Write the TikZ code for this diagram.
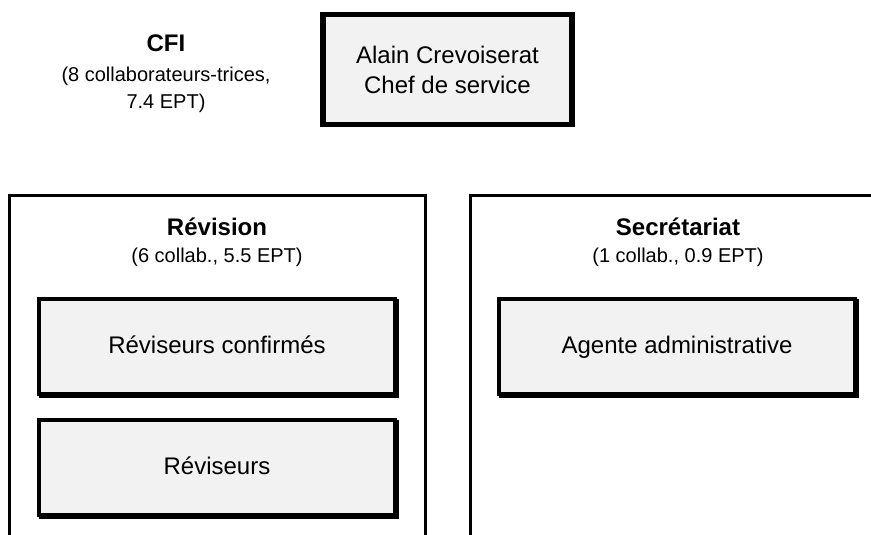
\documentclass[tikz,border=0pt]{standalone}
\usepackage{fontspec}
\setmainfont{Liberation Sans}
\definecolor{boxfill}{HTML}{F2F2F2}
\begin{document}
\begin{tikzpicture}[x=1pt,y=-1pt,
  smalltext/.style={font=\fontsize{20}{26.5}\selectfont},
  titletext/.style={font=\fontsize{24}{28}\selectfont\bfseries},
  rolebox/.style={draw=black, line width=4.5pt, fill=boxfill, inner sep=0pt,
    minimum width=356pt, minimum height=95pt, text height=17.7pt, text depth=4.5pt,
    font=\fontsize{24}{28}\selectfont},
  shadowbox/.style={fill=black, draw=black, line width=4.5pt, inner sep=0pt,
    minimum width=356pt, minimum height=95pt},
  unitframe/.style={draw=black, line width=3pt}
]
\useasboundingbox (0,0) rectangle (871,535);
\fill[white] (0,0) rectangle (871,535);

% unit frames (open at the bottom)
\coordinate (revBL) at (9.5,540);
\coordinate (revTL) at (9.5,195);
\coordinate (revTR) at (425,195);
\coordinate (revBR) at (425,540);
\draw[unitframe] (revBL) -- (revTL) -- (revTR) -- (revBR);
\coordinate (secBL) at (470,540);
\coordinate (secTL) at (470,195);
\coordinate (secTR) at (880,195);
\draw[unitframe] (secBL) -- (secTL) -- (secTR);

% CFI heading
\node[titletext, anchor=base, inner sep=0pt] (cfi) at (166,52) {CFI};
\node[smalltext, anchor=north, inner sep=0pt, align=center] (cfisub) at (166,67)
  {(8 collaborateurs-trices,\\7.4 EPT)};

% chief
\node[draw=black, line width=5.5pt, fill=boxfill, inner sep=0pt,
  minimum width=249pt, minimum height=110pt, align=center,
  font=\fontsize{24}{30}\selectfont] (chef) at (447.5,69.5)
  {Alain Crevoiserat\\Chef de service};

% Révision
\node[titletext, anchor=base, inner sep=0pt] (rev) at (217,235) {Révision};
\node[smalltext, anchor=base, inner sep=0pt] (revsub) at (217,262.5) {(6 collab., 5.5 EPT)};
\node[shadowbox] at (219,348.5) {};
\node[rolebox] (revconf) at (217,346.5) {Réviseurs confirmés};
\node[shadowbox] at (219,469.5) {};
\node[rolebox] (revis) at (217,467.5) {Réviseurs};

% Secrétariat
\node[titletext, anchor=base, inner sep=0pt] (sec) at (678,235) {Secrétariat};
\node[smalltext, anchor=base, inner sep=0pt] (secsub) at (678,262.5) {(1 collab., 0.9 EPT)};
\node[shadowbox] at (679,348.5) {};
\node[rolebox] (agent) at (677,346.5) {Agente administrative};
\end{tikzpicture}
\end{document}
